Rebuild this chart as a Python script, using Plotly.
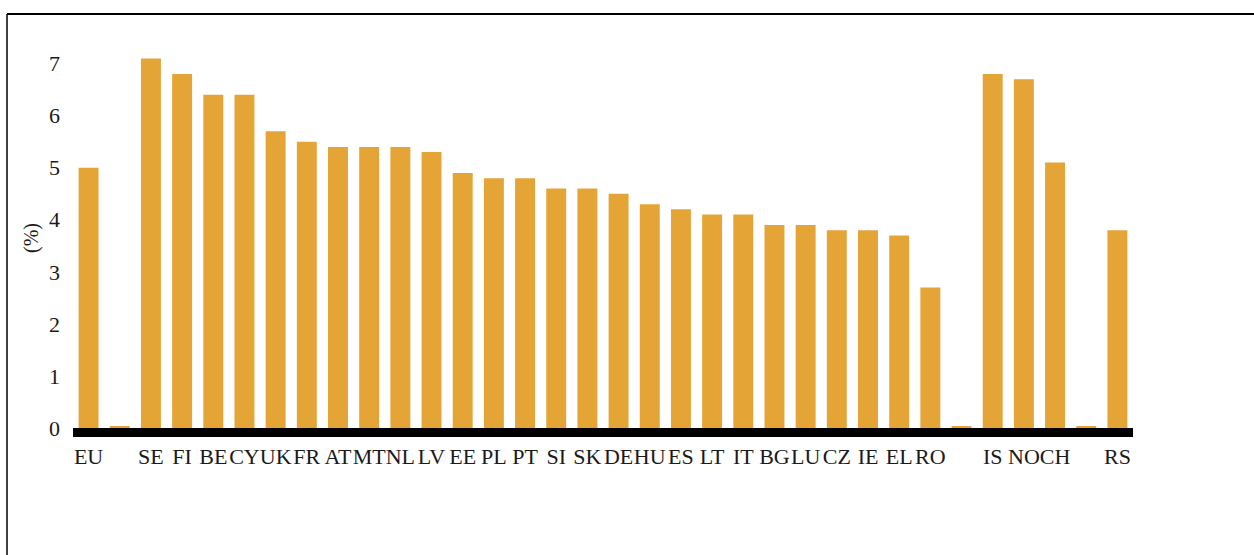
import plotly.graph_objects as go

categories = ["EU", " ", "SE", "FI", "BE", "CY", "UK", "FR", "AT", "MT", "NL", "LV", "EE",
              "PL", "PT", "SI", "SK", "DE", "HU", "ES", "LT", "IT", "BG", "LU", "CZ", "IE",
              "EL", "RO", "  ", "IS", "NO", "CH", "   ", "RS"]
values = [5.0, 0.03, 7.1, 6.8, 6.4, 6.4, 5.7, 5.5, 5.4, 5.4, 5.4, 5.3, 4.9,
          4.8, 4.8, 4.6, 4.6, 4.5, 4.3, 4.2, 4.1, 4.1, 3.9, 3.9, 3.8, 3.8,
          3.7, 2.7, 0.03, 6.8, 6.7, 5.1, 0.03, 3.8]
y_ticks = [0, 1, 2, 3, 4, 5, 6, 7]

BAR_COLOR = "#E5A536"
FONT = "Liberation Serif"

fig = go.Figure(go.Bar(
    x=categories, y=values,
    marker=dict(color=BAR_COLOR, line=dict(width=0)),
    hoverinfo="x+y",
))

W, H = 1254, 555
ml, mr, mt, mb = 73, 121, 48, 127
pw, ph = W - ml - mr, H - mt - mb

def px_to_paper_x(px):
    return (px - ml) / pw

def px_to_paper_y(py):
    return (H - mb - py) / ph

fig.update_layout(
    width=W, height=H,
    margin=dict(l=ml, r=mr, t=mt, b=mb, pad=0),
    paper_bgcolor="white", plot_bgcolor="white",
    bargap=0.36,
    showlegend=False,
    font=dict(family=FONT, color="#1a1a1a", size=22),
    xaxis=dict(
        type="category", range=[-0.5, len(categories) - 0.5],
        showline=True, linecolor="black", linewidth=9,
        showgrid=False, zeroline=False, ticks="",
        tickfont=dict(family=FONT, size=22, color="#1a1a1a"),
        tickangle=0, ticklabelstandoff=1,
    ),
    yaxis=dict(
        range=[0, 7.3], tickvals=y_ticks,
        showline=False, showgrid=False, zeroline=False, ticks="",
        tickfont=dict(family=FONT, size=22, color="#1a1a1a"),
        ticklabelstandoff=12,
        title=dict(text="(%)", font=dict(family=FONT, size=20, color="#1a1a1a"), standoff=5),
    ),
    shapes=[
        dict(type="line", xref="paper", yref="paper",
             x0=px_to_paper_x(7), x1=px_to_paper_x(W + 5),
             y0=px_to_paper_y(14), y1=px_to_paper_y(14),
             line=dict(color="black", width=2)),
        dict(type="line", xref="paper", yref="paper",
             x0=px_to_paper_x(7), x1=px_to_paper_x(7),
             y0=px_to_paper_y(14), y1=px_to_paper_y(H + 5),
             line=dict(color="black", width=1.5)),
    ],
)

fig.write_html("out.html", config={"displayModeBar": False},
               post_script="document.body.style.margin='0';document.body.style.overflow='hidden';")
